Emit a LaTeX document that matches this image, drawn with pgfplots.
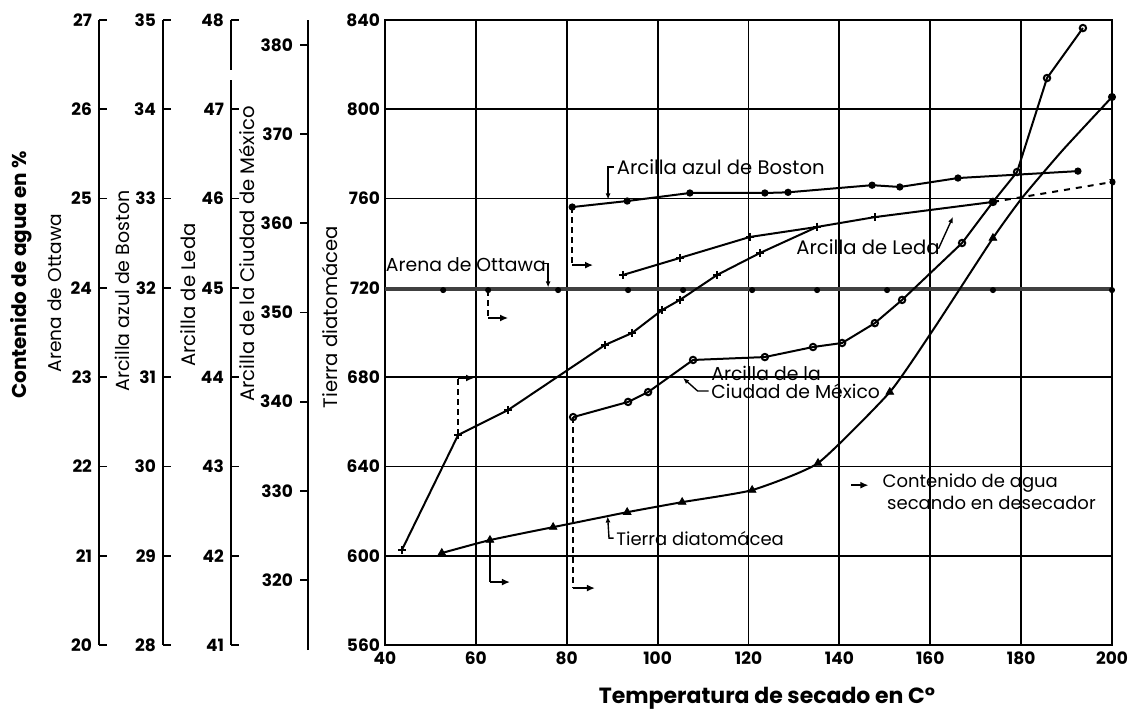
\documentclass[border=0pt]{standalone}
\usepackage{fontspec}
\setmainfont{Poppins}
\usepackage{pgfplots}
\pgfplotsset{compat=1.18}
\usetikzlibrary{arrows.meta}
\begin{document}
\begin{tikzpicture}[font=\fontsize{9}{10}\selectfont]
\path[use as bounding box] (0,0) rectangle (565.5pt,-356pt);

\pgfplotsset{aux/.style={
  scale only axis, width=10pt, anchor=south west,
  xmin=0, xmax=1, hide x axis, axis y line*=left,
  y axis line style={line width=1.2pt},
  major tick length=4pt, ytick style={line width=0.9pt, black},
  yticklabel style={font=\fontsize{8.5}{9}\selectfont\bfseries},
  /pgf/number format/assume math mode=true,
}}

% Arena de Ottawa (contenido de agua, %)
\begin{axis}[aux, at={(49.5pt,-322.5pt)}, height=312.5pt, ymin=20, ymax=27, ytick={20,...,27}, tick align=inside]
\addplot[draw=none] coordinates {(0,20) (1,27)};
\end{axis}
% Arcilla azul de Boston
\begin{axis}[aux, at={(81.5pt,-322.5pt)}, height=312.5pt, ymin=28, ymax=35, ytick={28,...,35}, tick align=inside]
\addplot[draw=none] coordinates {(0,28) (1,35)};
\end{axis}
% Arcilla de Leda
\begin{axis}[aux, at={(115.5pt,-322.5pt)}, height=312.5pt, ymin=41, ymax=48, ytick={41,...,48}, tick align=inside]
\addplot[draw=none] coordinates {(0,41) (1,48)};
\end{axis}
\fill[white] (113.5pt,-35pt) rectangle (117.5pt,-40pt);
% Arcilla de la Ciudad de Mexico
\begin{axis}[aux, at={(154pt,-325pt)}, height=315pt, ymin=312.15, ymax=382.8, ytick={320,330,...,380}, tick align=outside]
\addplot[draw=none] coordinates {(0,320) (1,380)};
\end{axis}

% rotated axis titles
\node[rotate=90, font=\fontsize{10}{12}\selectfont\bfseries] at (10.5pt,-137.5pt) {Contenido de agua en \%};
\node[rotate=90, font=\fontsize{9.3}{11}\selectfont] at (27.5pt,-146.5pt) {Arena de Ottawa};
\node[rotate=90, font=\fontsize{9.5}{11}\selectfont] at (61pt,-145.5pt) {Arcilla azul de Boston};
\node[rotate=90, font=\fontsize{9.8}{11}\selectfont] at (94pt,-147.5pt) {Arcilla de Leda};
\node[rotate=90, font=\fontsize{9.8}{11}\selectfont] at (123.5pt,-127pt) {Arcilla de la Ciudad de México};
\node[rotate=90, font=\fontsize{9.8}{11}\selectfont] at (165pt,-158.5pt) {Tierra diatomácea};
\node[font=\fontsize{11}{13}\selectfont\bfseries] at (383.5pt,-349pt) {Temperatura de secado en C°};

\begin{axis}[
  at={(192.5pt,-322.5pt)}, anchor=south west,
  scale only axis, width=363.5pt, height=312.5pt,
  xmin=40, xmax=200, ymin=560, ymax=840,
  xtick={40,60,...,200}, ytick={560,600,...,840},
  grid=major, major grid style={black, line width=0.9pt},
  axis line style={line width=1.4pt},
  tick style={draw=none},
  tick label style={font=\fontsize{8.5}{9}\selectfont\bfseries},
  yticklabel style={xshift=1pt},
  /pgf/number format/assume math mode=true,
  clip=false,
]
% Arena de Ottawa
\addplot[line width=2pt, black!75, mark=none] coordinates {(40,719.3) (200,719.3)};
\addplot[only marks, mark=*, mark size=1.3pt, black] coordinates {
(52.8,719) (62.7,719) (78.1,719) (93.5,719) (105.6,719) (120.8,719) (135.1,719) (150.5,719) (173.8,719) (200,719)};
% Arcilla azul de Boston
\addplot[line width=1pt, black, mark=*, mark size=1.3pt] coordinates {
(81.2,756.2) (93.3,758.9) (107.1,762.5) (123.6,762.5) (128.7,762.8) (147.2,766) (153.3,765.2) (166.1,769.2) (192.5,772.3)};
% Arcilla de Leda (segmento superior)
\addplot[line width=1pt, black, mark=+, mark size=2pt] coordinates {
(92.4,725.8) (104.9,733.4) (120.3,742.8) (135.1,747.3) (147.8,751.7) (173.8,758.5)};
\addplot[line width=1pt, black, dashed, mark=*, mark size=1.3pt] coordinates {(173.8,758.5) (200,767.4)};
% Arcilla de Leda (curva inferior)
\addplot[line width=1pt, black, mark=+, mark size=2pt] coordinates {
(43.7,602.5) (56.1,654.1) (67.1,665.3) (88.4,694.4) (94.4,699.8) (101,710.1) (104.9,714.6) (113.1,725.8) (122.5,735.6) (135.1,747.3)};
% Arcilla de la Ciudad de Mexico
\addplot[line width=1pt, black, mark=o, mark size=1.6pt, mark options={fill=white}] coordinates {
(81.4,662.1) (93.5,668.9) (97.9,673.3) (107.8,687.7) (123.6,689) (134.2,693.5) (140.6,695.3) (147.8,704.2) (153.8,714.6) (167,740.1) (173.8,758.5) (179.1,771.9) (185.7,814) (193.6,836.4)};
% Tierra diatomacea
\addplot[line width=1pt, black, smooth, tension=0.3] coordinates {
(52.5,601.2) (63.1,607) (77,612.8) (93.3,619.5) (105.4,624) (120.8,629.4) (135.3,641.5) (151.1,673.3) (160.6,701.1) (173.8,742.3) (180.2,760.3) (189.2,781.8) (200,805.5)};
\addplot[only marks, mark=triangle*, mark size=2.2pt, black] coordinates {
(52.5,601.2) (63.1,607) (77,612.8) (93.3,619.5) (105.4,624) (120.8,629.4) (135.3,641.5) (151.1,673.3) (173.8,742.3)};
\addplot[only marks, mark=*, mark size=1.8pt, black] coordinates {(200,805.5)};

% desiccator arrows
\draw[densely dashed, line width=0.8pt] (axis cs:62.7,719) -- (axis cs:62.7,706.5);
\draw[line width=0.8pt, -{Latex[length=4pt,width=3.5pt]}] (axis cs:62.7,706.5) -- (axis cs:67.1,706.5);
\draw[densely dashed, line width=0.8pt] (axis cs:81.2,756.2) -- (axis cs:81.2,730.2);
\draw[line width=0.8pt, -{Latex[length=4pt,width=3.5pt]}] (axis cs:81.2,730.2) -- (axis cs:85.8,730.2);
\draw[densely dashed, line width=0.8pt] (axis cs:56.1,654.1) -- (axis cs:56.1,679.6);
\draw[line width=0.8pt, -{Latex[length=4pt,width=3.5pt]}] (axis cs:56.1,679.6) -- (axis cs:59.6,679.6);
\draw[densely dashed, line width=0.8pt] (axis cs:81.4,662.1) -- (axis cs:81.4,585.5);
\draw[line width=0.8pt, -{Latex[length=4pt,width=3.5pt]}] (axis cs:81.4,585.5) -- (axis cs:86.2,585.5);
\draw[line width=0.8pt] (axis cs:63.1,607) -- (axis cs:63.1,588.2);
\draw[line width=0.8pt, -{Latex[length=4pt,width=3.5pt]}] (axis cs:63.1,588.2) -- (axis cs:67.5,588.2);
\draw[line width=0.8pt, -{Latex[length=4pt,width=3.5pt]}] (axis cs:142.6,631.6) -- (axis cs:146.4,631.6);

% labels with pointers
\node[anchor=west, inner sep=1pt, font=\fontsize{9.8}{11}\selectfont] at (axis cs:90.5,774.1) {Arcilla azul de Boston};
\draw[line width=0.7pt, -{Latex[length=3pt,width=2.5pt]}] (axis cs:90.3,774.1) -- (axis cs:89.1,774.1) -- (axis cs:89.1,759.6);
\node[anchor=center, inner sep=1pt, font=\fontsize{9.4}{11}\selectfont] at (axis cs:57.8,730.2) {Arena de Ottawa};
\draw[line width=0.7pt, -{Latex[length=3pt,width=2.5pt]}] (axis cs:74.8,731) -- (axis cs:75.9,731) -- (axis cs:75.9,720.2);
\node[anchor=center, inner sep=1pt, font=\fontsize{9.8}{11}\selectfont] at (axis cs:146.3,738.3) {Arcilla de Leda};
\draw[line width=0.7pt, -{Latex[length=3pt,width=2.5pt]}] (axis cs:161.8,737.5) -- (axis cs:165,751.8);
\node[anchor=west, inner sep=1pt, font=\fontsize{9.4}{11}\selectfont] at (axis cs:111.3,681.8) {Arcilla de la};
\node[anchor=west, inner sep=1pt, font=\fontsize{9.4}{11}\selectfont] at (axis cs:111.3,673.6) {Ciudad de México};
\draw[line width=0.7pt, -{Latex[length=3pt,width=2.5pt]}] (axis cs:111.2,673.8) -- (axis cs:108.8,673.8) -- (axis cs:105.6,679.6);
\node[anchor=west, inner sep=1pt] at (axis cs:90.4,607.9) {Tierra diatomácea};
\draw[line width=0.7pt, -{Latex[length=3pt,width=2.5pt]}] (axis cs:90.3,607.9) -- (axis cs:89.3,607.9) -- (axis cs:89,617.6);
\node[anchor=west, inner sep=1pt] at (axis cs:149,632.6) {Contenido de agua};
\node[anchor=west, inner sep=1pt] at (axis cs:150,623.6) {secando en desecador};
\end{axis}
\end{tikzpicture}
\end{document}
